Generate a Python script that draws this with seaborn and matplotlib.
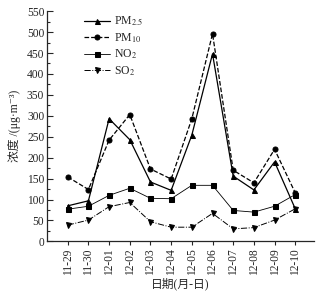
import pandas as pd
import seaborn as sns
import matplotlib.pyplot as plt
from matplotlib.ticker import MultipleLocator

dates = ['11-29', '11-30', '12-01', '12-02', '12-03', '12-04',
         '12-05', '12-06', '12-07', '12-08', '12-09', '12-10']
pm25 = [85, 97, 293, 243, 142, 122, 254, 448, 156, 123, 190, 78]
pm10 = [154, 124, 242, 303, 173, 149, 293, 496, 170, 140, 220, 116]
no2 = [77, 84, 110, 127, 103, 102, 134, 134, 74, 70, 84, 112]
so2 = [39, 51, 83, 93, 47, 34, 34, 67, 30, 33, 51, 78]

df = pd.DataFrame({'date': dates, 'PM2.5': pm25, 'PM10': pm10, 'NO2': no2, 'SO2': so2})

sns.set_style('ticks')
plt.rcParams['font.family'] = ['Liberation Serif', 'Noto Sans CJK SC', 'DejaVu Serif']
plt.rcParams['mathtext.fontset'] = 'stix'

fig = plt.figure(figsize=(3.29, 2.93), dpi=100)
ax = fig.add_axes([0.143, 0.176, 0.811, 0.786])

styles = [
    ('PM2.5', r'PM$_{2.5}$', '-', '^', 0.9),
    ('PM10', r'PM$_{10}$', '--', 'o', 0.9),
    ('NO2', r'NO$_{2}$', '-', 's', 0.6),
    ('SO2', r'SO$_{2}$', '-.', 'v', 0.7),
]
for col, lab, ls, mk, lw in styles:
    sns.lineplot(data=df, x='date', y=col, ax=ax, color='black', linestyle=ls,
                 marker=mk, markersize=3.6, markeredgecolor='black',
                 linewidth=lw, label=lab)

ax.set_ylim(0, 550)
ax.set_xlim(-1, 11.9)
ax.yaxis.set_major_locator(MultipleLocator(50))
ax.yaxis.set_minor_locator(MultipleLocator(25))
ax.tick_params(axis='y', direction='in', labelsize=8.3, length=4, width=0.8, pad=2)
ax.tick_params(axis='y', which='minor', direction='in', length=2, width=0.8)
ax.tick_params(axis='x', direction='out', labelsize=8.3, length=3, width=0.8,
               rotation=90, pad=2)
for s in ['top', 'right']:
    ax.spines[s].set_visible(False)
for s in ['left', 'bottom']:
    ax.spines[s].set_linewidth(0.9)

ax.set_ylabel('浓度 /(μg·m⁻³)', fontsize=8.5, labelpad=4)
ax.set_xlabel('日期(月-日)', fontsize=8.5, labelpad=2)

ax.legend(loc='upper left', bbox_to_anchor=(0.1, 1.03), frameon=False,
          fontsize=8.5, handlelength=2.2, handletextpad=0.3, labelspacing=0.25)

plt.savefig('out.png', dpi=100)
plt.close()
